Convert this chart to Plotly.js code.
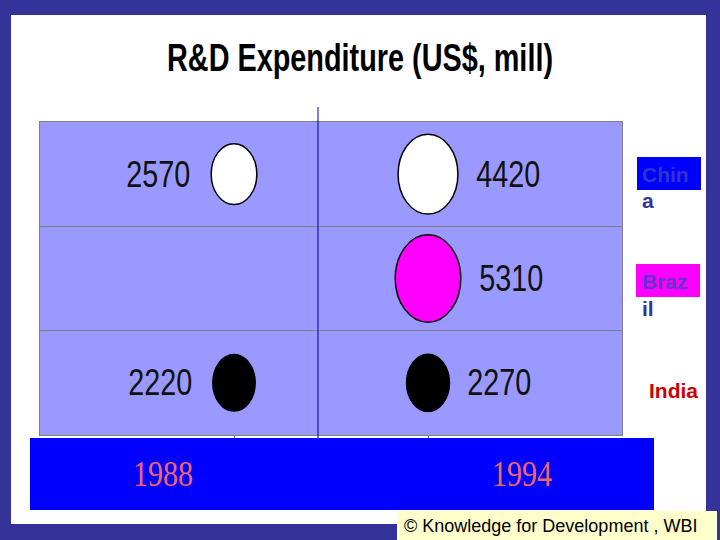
<!DOCTYPE html>
<html>
<head>
<meta charset="utf-8">
<script src="https://cdn.plot.ly/plotly-3.0.1.min.js"></script>
<style>html,body{margin:0;padding:0;background:#333399;}#chart{width:720px;height:540px;}</style>
</head>
<body>
<div id="chart"></div>
<script>
// ---- data ----
const years = ['1988', '1994'];
const countries = ['India', 'Brazil', 'China']; // bottom to top rows
const chinaValues = [2570, 4420];
const brazilValues = [null, 5310];
const indiaValues = [2220, 2270];
const titleText = 'R&D Expenditure (US$, mill)';
const creditText = '\u00a9 Knowledge for Development , WBI';

// ---- styling / layout helpers ----
const W = 720, H = 540;
const M = {l: 40, r: 98, t: 122, b: 105};
const PW = W - M.l - M.r, PH = H - M.t - M.b;
const XR = [-1, 2], YR = [-0.5, 2.5];
const pxPerX = PW / (XR[1] - XR[0]);
const pxPerY = PH / (YR[1] - YR[0]);
const P = px => (px - M.l) / PW;          // page px -> paper x
const Q = py => (H - M.b - py) / PH;      // page py -> paper y
const fill = {China: '#ffffff', Brazil: '#ff00ff', India: '#000000'};
const sans = 'Liberation Sans, Arial, sans-serif';
const LABEL_W = 64;   // condensed width of a 4-digit label

const series = {China: chinaValues, Brazil: brazilValues, India: indiaValues};

const shapes = [
  {type: 'rect', xref: 'paper', yref: 'paper', x0: P(11), x1: P(706), y0: Q(15), y1: Q(524),
   fillcolor: '#ffffff', line: {width: 0}, layer: 'below'},
  {type: 'rect', xref: 'paper', yref: 'paper', x0: 0, x1: 1, y0: 0, y1: 1,
   fillcolor: '#9999ff', line: {width: 0}, layer: 'below'},
  {type: 'rect', xref: 'paper', yref: 'paper', x0: P(30), x1: P(654), y0: Q(438), y1: Q(510),
   fillcolor: '#0000ff', line: {width: 0}, layer: 'above'},
  {type: 'line', xref: 'paper', yref: 'paper', x0: P(318), x1: P(318), y0: Q(438), y1: Q(107),
   line: {color: '#000099', width: 1}, layer: 'above'},
  {type: 'rect', xref: 'paper', yref: 'paper', x0: P(397), x1: P(717), y0: Q(511), y1: Q(540),
   fillcolor: '#ffffcc', line: {width: 0}, layer: 'above'},
  {type: 'rect', xref: 'paper', yref: 'paper', x0: P(637), x1: P(701), y0: Q(157), y1: Q(190),
   fillcolor: '#0000ff', line: {width: 0}, layer: 'above'},
  {type: 'rect', xref: 'paper', yref: 'paper', x0: P(636), x1: P(700), y0: Q(264), y1: Q(297),
   fillcolor: '#ff00ff', line: {width: 0}, layer: 'above'}
];

const annotations = [];
const valueTexts = new Set();

countries.forEach((c, ci) => {
  series[c].forEach((v, yi) => {
    if (v == null) return;
    const wpx = 0.9 * Math.sqrt(v), hpx = 1.2 * Math.sqrt(v);
    const rx = wpx / 2 / pxPerX, ry = hpx / 2 / pxPerY;
    shapes.push({type: 'circle', xref: 'x', yref: 'y', x0: yi - rx, x1: yi + rx, y0: ci - ry, y1: ci + ry,
      fillcolor: fill[c], line: {color: '#000000', width: 1.5}, layer: 'above'});
    const left = yi === 0;
    valueTexts.add(String(v));
    annotations.push({xref: 'x', yref: 'y', x: yi, y: ci, text: String(v), showarrow: false,
      xanchor: 'center', xshift: (left ? -1 : 1) * (wpx / 2 + (left ? 21 : 18) + LABEL_W / 2),
      font: {family: sans, size: 37, color: '#111111'}});
  });
});

const yearPx = [163, 522];
years.forEach((y, i) => {
  annotations.push({xref: 'paper', yref: 'paper', x: P(yearPx[i]), y: Q(475), text: y, showarrow: false,
    xanchor: 'center', yanchor: 'middle',
    font: {family: 'Liberation Serif, Times New Roman, serif', size: 35, color: '#f06666'}});
});

const lf = {family: sans, size: 21, weight: 'bold'};
annotations.push(
  {xref: 'paper', yref: 'paper', x: P(640), y: Q(174), text: 'Chin', showarrow: false, xanchor: 'left', yanchor: 'middle',
   font: Object.assign({}, lf, {color: '#3333cc'})},
  {xref: 'paper', yref: 'paper', x: P(640), y: Q(200), text: 'a', showarrow: false, xanchor: 'left', yanchor: 'middle',
   font: Object.assign({}, lf, {color: '#333399'})},
  {xref: 'paper', yref: 'paper', x: P(640), y: Q(281), text: 'Braz', showarrow: false, xanchor: 'left', yanchor: 'middle',
   font: Object.assign({}, lf, {color: '#6633cc'})},
  {xref: 'paper', yref: 'paper', x: P(640), y: Q(308), text: 'il', showarrow: false, xanchor: 'left', yanchor: 'middle',
   font: Object.assign({}, lf, {color: '#333399'})},
  {xref: 'paper', yref: 'paper', x: P(647), y: Q(390), text: 'India', showarrow: false, xanchor: 'left', yanchor: 'middle',
   font: Object.assign({}, lf, {color: '#cc0000'})},
  {xref: 'paper', yref: 'paper', x: P(402), y: Q(526), text: creditText, showarrow: false, xanchor: 'left', yanchor: 'middle',
   font: {family: sans, size: 18, color: '#000000'}}
);

const data = [{
  type: 'scatter', mode: 'markers', x: [0, 1], y: [0, 0],
  marker: {size: 1, opacity: 0}, hoverinfo: 'skip', showlegend: false
}];

const layout = {
  width: W, height: H, margin: M,
  paper_bgcolor: '#333399', plot_bgcolor: 'rgba(0,0,0,0)',
  showlegend: false,
  title: {text: '<b>' + titleText.replace('&', '&amp;') + '</b>', xref: 'container', x: 0.5, xanchor: 'center',
          yref: 'container', y: 1 - 58 / H, yanchor: 'middle',
          font: {family: sans, size: 38, color: '#000000'}},
  xaxis: {range: XR, tickvals: [0, 1], ticktext: ['', ''], ticks: 'outside', ticklen: 4, tickcolor: '#808080',
          showgrid: false, zeroline: false, showline: true, linecolor: '#808080', linewidth: 1, mirror: true,
          fixedrange: true},
  yaxis: {range: YR, tickvals: [0.5, 1.5], ticktext: ['', ''], ticks: '', showgrid: true, gridcolor: '#808080',
          gridwidth: 1, zeroline: false, showline: true, linecolor: '#808080', linewidth: 1, mirror: true,
          fixedrange: true},
  shapes: shapes,
  annotations: annotations
};

// condense text (the original uses a narrow typeface)
function squeeze(el, target) {
  el.setAttribute('textLength', target);
  el.setAttribute('lengthAdjust', 'spacingAndGlyphs');
}

Plotly.newPlot('chart', data, layout, {displayModeBar: false, staticPlot: true}).then(gd => {
  gd.querySelectorAll('.annotation-text').forEach(el => {
    const t = el.textContent;
    if (valueTexts.has(t)) squeeze(el, LABEL_W);
    else if (years.includes(t)) squeeze(el, el.getComputedTextLength() * 0.86);
  });
  const tt = gd.querySelector('.gtitle');
  if (tt) squeeze(tt, 386);
});
</script>
</body>
</html>
